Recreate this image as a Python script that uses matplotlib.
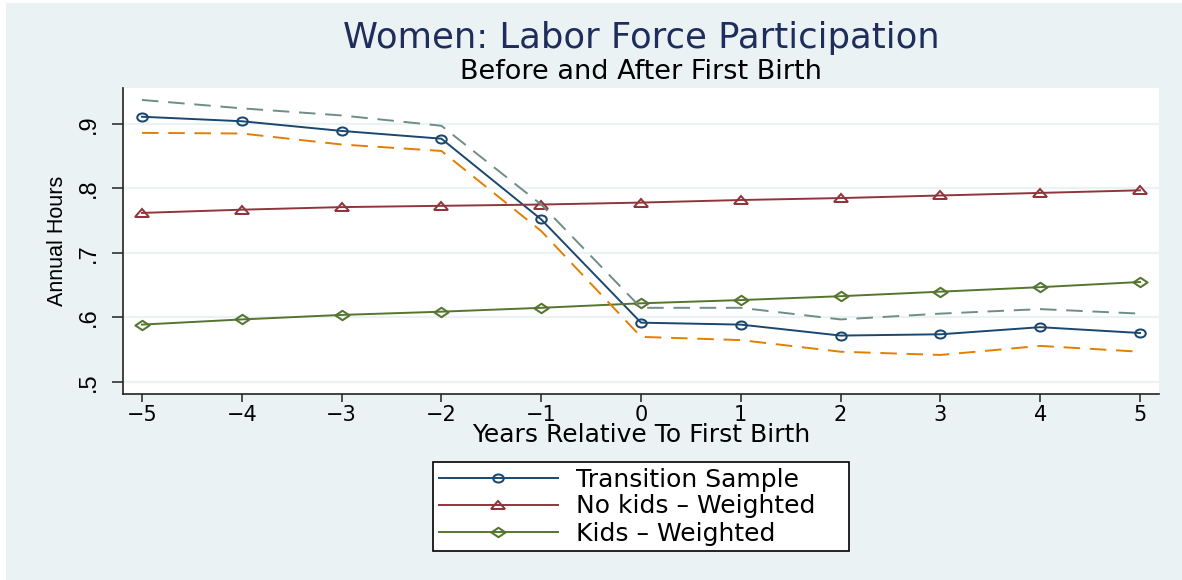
import matplotlib
matplotlib.use("Agg")
import matplotlib.pyplot as plt
from matplotlib import font_manager
from matplotlib.markers import MarkerStyle
from matplotlib.path import Path
from matplotlib.transforms import Affine2D
from matplotlib.patches import Rectangle

# ---------------- data ----------------
years = [-5, -4, -3, -2, -1, 0, 1, 2, 3, 4, 5]
transition = [0.911, 0.904, 0.889, 0.877, 0.752, 0.592, 0.589, 0.572, 0.574, 0.585, 0.576]
no_kids = [0.762, 0.767, 0.771, 0.773, 0.775, 0.778, 0.782, 0.785, 0.789, 0.793, 0.797]
kids = [0.589, 0.597, 0.604, 0.609, 0.615, 0.622, 0.627, 0.633, 0.640, 0.647, 0.655]
upper_bound = [0.937, 0.924, 0.913, 0.897, 0.775, 0.615, 0.615, 0.597, 0.606, 0.613, 0.606]
lower_bound = [0.886, 0.885, 0.868, 0.858, 0.734, 0.570, 0.565, 0.547, 0.542, 0.556, 0.547]

series_labels = ["Transition Sample", "No kids \u2013 Weighted", "Kids \u2013 Weighted"]
x_ticks = [-5, -4, -3, -2, -1, 0, 1, 2, 3, 4, 5]
x_tick_labels = ["\u22125", "\u22124", "\u22123", "\u22122", "\u22121", "0", "1", "2", "3", "4", "5"]
y_ticks = [0.5, 0.6, 0.7, 0.8, 0.9]
y_tick_labels = [".5", ".6", ".7", ".8", ".9"]

title = "Women: Labor Force Participation"
subtitle = "Before and After First Birth"
xlabel = "Years Relative To First Birth"
ylabel = "Annual Hours"

# ---------------- fonts ----------------
installed = {f.name for f in font_manager.fontManager.ttflist}
HFONT = ["DejaVu Sans"]
if "Liberation Sans Narrow" in installed:
    VFONT = ["Liberation Sans Narrow", "DejaVu Sans"]
    vtick_size, vlabel_size = 18, 17.5
else:
    VFONT = ["Liberation Sans", "DejaVu Sans"]
    vtick_size, vlabel_size = 17, 15.5
plt.rcParams["font.family"] = HFONT

# ---------------- colours ----------------
BG = "#EAF2F3"
NAVY = "#1A476F"
MAROON = "#90353B"
GREEN = "#55752F"
ORANGE = "#E37E00"
TEAL = "#6E8E84"
TITLE_C = "#1E2D5C"

W, H = 1182, 580
fig = plt.figure(figsize=(W / 100, H / 100), dpi=100)
fig.patch.set_facecolor(BG)
# thin white page margin at top / left
fig.patches.append(Rectangle((0, 1 - 3 / H), 1, 3 / H, transform=fig.transFigure,
                             facecolor="white", edgecolor="none", zorder=0))
fig.patches.append(Rectangle((0, 0), 6 / W, 1, transform=fig.transFigure,
                             facecolor="white", edgecolor="none", zorder=0))

ax = fig.add_axes([123 / W, 1 - 394 / H, 1036 / W, 306 / H])
ax.set_facecolor("white")

# stretched (wide) markers like the reference
circ = MarkerStyle("o", fillstyle="none", transform=Affine2D().scale(1.3, 1.0))
tri = MarkerStyle("^", fillstyle="none", transform=Affine2D().scale(1.8, 1.0))
diamond_path = Path([(-1, 0), (0, 1), (1, 0), (0, -1), (-1, 0)],
                    [Path.MOVETO, Path.LINETO, Path.LINETO, Path.LINETO, Path.CLOSEPOLY])
dia = MarkerStyle(diamond_path, fillstyle="none", transform=Affine2D().scale(1.5, 1.0))

lw = 1.4
mew = 1.45
ax.plot(years, transition, color=NAVY, lw=lw, marker=circ, ms=5.8, mew=mew,
        mfc="none", mec=NAVY, label=series_labels[0], zorder=3)
ax.plot(years, no_kids, color=MAROON, lw=lw, marker=tri, ms=5.4, mew=mew,
        mfc="none", mec=MAROON, label=series_labels[1], zorder=3)
ax.plot(years, kids, color=GREEN, lw=lw, marker=dia, ms=6.8, mew=mew,
        mfc="none", mec=GREEN, label=series_labels[2], zorder=3)
ax.plot(years, lower_bound, color=ORANGE, lw=lw, ls=(0, (8.5, 5)), zorder=3)
ax.plot(years, upper_bound, color=TEAL, lw=lw, ls=(0, (8.5, 5)), zorder=3)

ax.set_xlim(-5.19, 5.19)
ax.set_ylim(0.4815, 0.9555)

ax.set_xticks(x_ticks)
ax.set_xticklabels(x_tick_labels, fontsize=15, family=HFONT)
ax.set_yticks(y_ticks)
ax.set_yticklabels(y_tick_labels, fontsize=vtick_size, family=VFONT,
                   rotation=90, va="center")

ax.tick_params(axis="x", length=5.8, width=1.1, color="#222222", pad=2.2)
ax.tick_params(axis="y", length=8, width=1.1, color="#222222", pad=8.5)

ax.grid(axis="y", color=BG, lw=1.6)
ax.grid(axis="x", visible=False)
ax.set_axisbelow(True)

for s in ["top", "right"]:
    ax.spines[s].set_visible(False)
for s in ["left", "bottom"]:
    ax.spines[s].set_color("#222222")
    ax.spines[s].set_linewidth(1.2)

ax.set_xlabel(xlabel, fontsize=18, family=HFONT)
ax.xaxis.label.set_va("baseline")
ax.xaxis.set_label_coords(0.5, -(442 - 394) / 306)

ax.set_ylabel(ylabel, fontsize=vlabel_size, family=VFONT)
ax.yaxis.label.set_va("baseline")
ax.yaxis.set_label_coords((62.5 - 123) / 1036, 0.5)

fig.text(641 / W, 1 - 48 / H, title, ha="center", va="baseline",
         fontsize=25.5, color=TITLE_C, family=HFONT)
fig.text(641 / W, 1 - 79 / H, subtitle, ha="center", va="baseline",
         fontsize=19.5, color="black", family=HFONT)

leg = fig.legend(loc="center",
                 bbox_to_anchor=(433 / W, 1 - 553 / H, 416 / W, 93 / H),
                 bbox_transform=fig.transFigure, mode="expand",
                 borderaxespad=0, borderpad=0.22, labelspacing=0.12,
                 handlelength=4.76, handletextpad=0.76,
                 fancybox=False, frameon=True,
                 edgecolor="black", facecolor="white", framealpha=1,
                 prop={"family": HFONT, "size": 18})
leg.get_frame().set_linewidth(1.2)

fig.savefig("out.png", dpi=100, facecolor=fig.get_facecolor())
